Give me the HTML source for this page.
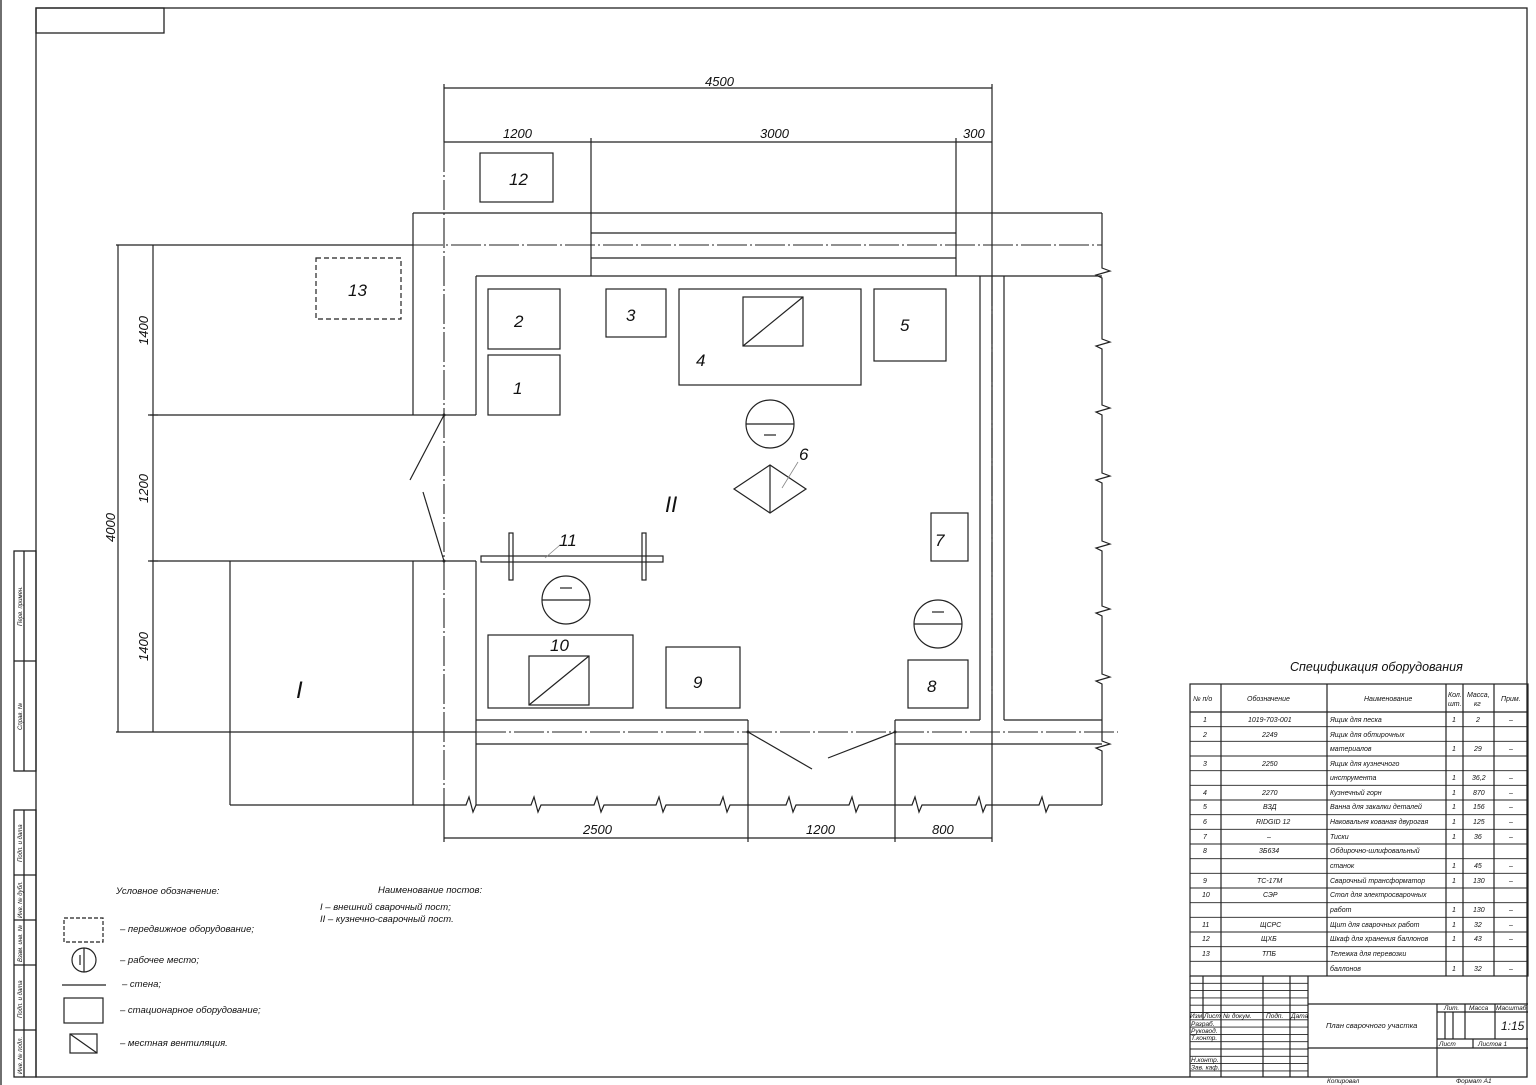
<!DOCTYPE html>
<html><head><meta charset="utf-8"><style>
html,body{margin:0;padding:0;background:#fff;}
svg{display:block;}
text{font-family:"Liberation Sans",sans-serif;font-style:italic;fill:#111;}
</style></head><body>
<svg width="1536" height="1085" viewBox="0 0 1536 1085" xmlns="http://www.w3.org/2000/svg">
<g stroke="#222" stroke-width="1.3" fill="none">
<!-- frame -->
<line x1="1" y1="0" x2="1" y2="1085"/>
<rect x="36" y="8" width="1491" height="1069"/>
<rect x="36" y="8" width="128" height="25"/>
<!-- left strip -->
<rect x="14" y="551" width="22" height="220"/>
<line x1="24" y1="551" x2="24" y2="771"/><line x1="14" y1="661" x2="36" y2="661"/>
<rect x="14" y="810" width="22" height="267"/>
<line x1="24" y1="810" x2="24" y2="1077"/>
<line x1="14" y1="875" x2="36" y2="875"/><line x1="14" y1="920" x2="36" y2="920"/>
<line x1="14" y1="965" x2="36" y2="965"/><line x1="14" y1="1030" x2="36" y2="1030"/>
</g>
<g font-size="6">
<text transform="translate(22,626) rotate(-90)">Перв. примен.</text>
<text transform="translate(22,730) rotate(-90)">Справ. №</text>
<text transform="translate(22,862) rotate(-90)">Подп. и дата</text>
<text transform="translate(22,918) rotate(-90)">Инв. № дубл.</text>
<text transform="translate(22,962) rotate(-90)">Взам. инв. №</text>
<text transform="translate(22,1018) rotate(-90)">Подп. и дата</text>
<text transform="translate(22,1074) rotate(-90)">Инв. № подл.</text>
</g>

<!-- plan -->
<g stroke="#222" stroke-width="1.2" fill="none">
<!-- dimension lines top -->
<line x1="444" y1="88" x2="992" y2="88"/>
<line x1="444" y1="142" x2="992" y2="142"/>
<line x1="591" y1="138" x2="591" y2="276"/>
<line x1="956" y1="138" x2="956" y2="276"/>
<line x1="992" y1="84" x2="992" y2="842"/>
<!-- top walls -->
<line x1="413" y1="213" x2="1102" y2="213"/>
<line x1="476" y1="276" x2="1102" y2="276"/>
<line x1="591" y1="233" x2="956" y2="233"/>
<line x1="591" y1="258" x2="956" y2="258"/>
<line x1="116" y1="245" x2="413" y2="245"/>
<!-- left walls -->
<line x1="413" y1="213" x2="413" y2="415"/>
<line x1="476" y1="276" x2="476" y2="415"/>
<line x1="150" y1="415" x2="476" y2="415"/>
<line x1="150" y1="561" x2="476" y2="561"/>
<line x1="413" y1="561" x2="413" y2="805"/>
<line x1="476" y1="561" x2="476" y2="805"/>
<line x1="230" y1="561" x2="230" y2="805"/>
<line x1="444" y1="415" x2="410" y2="480"/>
<line x1="423" y1="492" x2="444" y2="561"/>
<!-- bottom walls -->
<line x1="476" y1="720" x2="748" y2="720"/>
<line x1="476" y1="744" x2="748" y2="744"/>
<line x1="116" y1="732" x2="476" y2="732"/>
<line x1="748" y1="720" x2="748" y2="842"/>
<line x1="895" y1="720" x2="895" y2="842"/>
<line x1="895" y1="720" x2="980" y2="720"/>
<line x1="895" y1="744" x2="1102" y2="744"/>
<line x1="748" y1="732" x2="812" y2="769"/>
<line x1="895" y1="732" x2="828" y2="758"/>
<line x1="444" y1="805" x2="444" y2="842"/>
<!-- right walls -->
<line x1="980" y1="276" x2="980" y2="720"/>
<line x1="1004" y1="276" x2="1004" y2="720"/>
<line x1="1004" y1="720" x2="1102" y2="720"/>
<!-- break lines -->
<polyline points="230,805 466,805 469,797 473,812 476,805 531,805 534,797 538,812 541,805 594,805 597,797 601,812 604,805 656,805 659,797 663,812 666,805 720,805 723,797 727,812 730,805 786,805 789,797 793,812 796,805 849,805 852,797 856,812 859,805 912,805 915,797 919,812 922,805 976,805 979,797 983,812 986,805 1039,805 1042,797 1046,812 1049,805 1102,805"/>
<polyline points="1102,213 1102,268 1110,271 1096,275 1102,278 1102,339 1110,342 1096,346 1102,349 1102,405 1110,408 1096,412 1102,415 1102,473 1110,476 1096,480 1102,483 1102,541 1110,544 1096,548 1102,551 1102,606 1110,609 1096,613 1102,616 1102,674 1110,677 1096,681 1102,684 1102,741 1110,744 1096,748 1102,751 1102,805"/>
<!-- left dims -->
<line x1="118" y1="245" x2="118" y2="732"/>
<line x1="153" y1="245" x2="153" y2="732"/>
<!-- bottom dims -->
<line x1="444" y1="838" x2="992" y2="838"/>
</g>
<!-- ticks -->
<g stroke="#222" stroke-width="1.2">
<line x1="444" y1="84" x2="444" y2="142"/>
<line x1="148" y1="415" x2="158" y2="415"/><line x1="148" y1="561" x2="158" y2="561"/>
</g>
<!-- centerlines -->
<g stroke="#222" stroke-width="1.1" fill="none" stroke-dasharray="30 3 2 3">
<line x1="413" y1="245" x2="1102" y2="245"/>
<line x1="444" y1="142" x2="444" y2="805"/>
<line x1="476" y1="732" x2="1118" y2="732"/>
<line x1="992" y1="276" x2="992" y2="720"/>
</g>
<g fill="#222"><circle cx="444" cy="415" r="1.5"/><circle cx="444" cy="561" r="1.5"/><circle cx="748" cy="732" r="1.5"/><circle cx="895" cy="732" r="1.5"/></g>

<!-- equipment -->
<g stroke="#222" stroke-width="1.2" fill="none">
<rect x="480" y="153" width="73" height="49"/>
<rect x="316" y="258" width="85" height="61" stroke-dasharray="5 3"/>
<rect x="488" y="289" width="72" height="60"/>
<rect x="488" y="355" width="72" height="60"/>
<rect x="606" y="289" width="60" height="48"/>
<rect x="679" y="289" width="182" height="96"/>
<rect x="743" y="297" width="60" height="49"/><line x1="743" y1="346" x2="803" y2="297"/>
<rect x="874" y="289" width="72" height="72"/>
<ellipse cx="770" cy="424" rx="24" ry="24"/><line x1="746" y1="424" x2="794" y2="424"/><line x1="764" y1="435" x2="776" y2="435"/>
<polygon points="734,489 770,465 806,489 770,513"/><line x1="770" y1="465" x2="770" y2="513"/>
<line x1="798" y1="462" x2="782" y2="488" stroke="#888" stroke-width="0.8"/>
<rect x="481" y="556" width="182" height="6"/>
<rect x="509" y="533" width="4" height="47"/><rect x="642" y="533" width="4" height="47"/>
<line x1="560" y1="545" x2="545" y2="558" stroke="#888" stroke-width="0.8"/>
<ellipse cx="566" cy="600" rx="24" ry="24"/><line x1="542" y1="600" x2="590" y2="600"/><line x1="560" y1="588" x2="572" y2="588"/>
<rect x="488" y="635" width="145" height="73"/>
<rect x="529" y="656" width="60" height="49"/><line x1="529" y1="705" x2="589" y2="656"/>
<rect x="666" y="647" width="74" height="61"/>
<rect x="931" y="513" width="37" height="48"/>
<ellipse cx="938" cy="624" rx="24" ry="24"/><line x1="914" y1="624" x2="962" y2="624"/><line x1="932" y1="612" x2="944" y2="612"/>
<rect x="908" y="660" width="60" height="48"/>
</g>
<g font-size="17">
<text x="509" y="185">12</text><text x="348" y="296">13</text>
<text x="514" y="327">2</text><text x="513" y="394">1</text><text x="626" y="321">3</text>
<text x="696" y="366">4</text><text x="900" y="331">5</text><text x="799" y="460">6</text>
<text x="665" y="512" font-size="22">II</text>
<text x="559" y="546">11</text><text x="550" y="651">10</text><text x="693" y="688">9</text>
<text x="935" y="546">7</text><text x="927" y="692">8</text>
<text x="296" y="698" font-size="24">I</text>
</g>
<g font-size="13">
<text x="705" y="86">4500</text><text x="503" y="138">1200</text><text x="760" y="138">3000</text><text x="963" y="138">300</text>
<text x="583" y="834">2500</text><text x="806" y="834">1200</text><text x="932" y="834">800</text>
<text transform="translate(148,345) rotate(-90)">1400</text>
<text transform="translate(148,503) rotate(-90)">1200</text>
<text transform="translate(148,661) rotate(-90)">1400</text>
<text transform="translate(115,542) rotate(-90)">4000</text>
</g>

<!-- legend -->
<g stroke="#222" stroke-width="1.2" fill="none">
<rect x="64" y="918" width="39" height="24" stroke-dasharray="4 2"/>
<circle cx="84" cy="960" r="12"/><line x1="84" y1="948" x2="84" y2="972"/><line x1="80" y1="955" x2="80" y2="965"/>
<line x1="62" y1="985" x2="106" y2="985"/>
<rect x="64" y="998" width="39" height="25"/>
<rect x="70" y="1034" width="27" height="19"/><line x1="70" y1="1034" x2="97" y2="1053"/>
</g>
<g font-size="9.5">
<text x="116" y="894">Условное обозначение:</text>
<text x="120" y="932">– передвижное оборудование;</text>
<text x="120" y="963">– рабочее место;</text>
<text x="122" y="987">– стена;</text>
<text x="120" y="1013">– стационарное оборудование;</text>
<text x="120" y="1046">– местная вентиляция.</text>
<text x="378" y="893">Наименование постов:</text>
<text x="320" y="910">I – внешний сварочный пост;</text>
<text x="320" y="922">II – кузнечно-сварочный пост.</text>
</g>

<!-- spec table -->
<text x="1290" y="671" font-size="12.5">Спецификация оборудования</text>
<g stroke="#222" stroke-width="1.2" fill="none">
<rect x="1190" y="684" width="338" height="292"/>
<line x1="1190" y1="712" x2="1528" y2="712"/>
<line x1="1221" y1="684" x2="1221" y2="976"/><line x1="1327" y1="684" x2="1327" y2="976"/>
<line x1="1446" y1="684" x2="1446" y2="976"/><line x1="1463" y1="684" x2="1463" y2="976"/>
<line x1="1494" y1="684" x2="1494" y2="976"/>
</g>
<g stroke="#222" stroke-width="0.9">
<line x1="1190" y1="726.7" x2="1528" y2="726.7"/><line x1="1190" y1="741.3" x2="1528" y2="741.3"/>
<line x1="1190" y1="756" x2="1528" y2="756"/><line x1="1190" y1="770.7" x2="1528" y2="770.7"/>
<line x1="1190" y1="785.3" x2="1528" y2="785.3"/><line x1="1190" y1="800" x2="1528" y2="800"/>
<line x1="1190" y1="814.7" x2="1528" y2="814.7"/><line x1="1190" y1="829.3" x2="1528" y2="829.3"/>
<line x1="1190" y1="844" x2="1528" y2="844"/><line x1="1190" y1="858.7" x2="1528" y2="858.7"/>
<line x1="1190" y1="873.3" x2="1528" y2="873.3"/><line x1="1190" y1="888" x2="1528" y2="888"/>
<line x1="1190" y1="902.7" x2="1528" y2="902.7"/><line x1="1190" y1="917.3" x2="1528" y2="917.3"/>
<line x1="1190" y1="932" x2="1528" y2="932"/><line x1="1190" y1="946.7" x2="1528" y2="946.7"/>
<line x1="1190" y1="961.3" x2="1528" y2="961.3"/>
</g>
<g font-size="7">
<text x="1193" y="701">№ п/о</text><text x="1247" y="701">Обозначение</text><text x="1364" y="701">Наименование</text>
<text x="1448" y="697">Кол.</text><text x="1448" y="706">шт.</text><text x="1467" y="697">Масса,</text><text x="1474" y="706">кг</text><text x="1501" y="701">Прим.</text>
</g>
<g font-size="7">
<text x="1203" y="722">1</text><text x="1248" y="722">1019-703-001</text><text x="1330" y="722">Ящик для песка</text><text x="1452" y="722">1</text><text x="1476" y="722">2</text><text x="1509" y="722">–</text>
<text x="1203" y="737">2</text><text x="1262" y="737">2249</text><text x="1330" y="737">Ящик для обтирочных</text>
<text x="1330" y="751">материалов</text><text x="1452" y="751">1</text><text x="1474" y="751">29</text><text x="1509" y="751">–</text>
<text x="1203" y="766">3</text><text x="1262" y="766">2250</text><text x="1330" y="766">Ящик для кузнечного</text>
<text x="1330" y="780">инструмента</text><text x="1452" y="780">1</text><text x="1472" y="780">36,2</text><text x="1509" y="780">–</text>
<text x="1203" y="795">4</text><text x="1262" y="795">2270</text><text x="1330" y="795">Кузнечный горн</text><text x="1452" y="795">1</text><text x="1473" y="795">870</text><text x="1509" y="795">–</text>
<text x="1203" y="809">5</text><text x="1263" y="809">ВЗД</text><text x="1330" y="809">Ванна для закалки деталей</text><text x="1452" y="809">1</text><text x="1473" y="809">156</text><text x="1509" y="809">–</text>
<text x="1203" y="824">6</text><text x="1256" y="824">RIDGID 12</text><text x="1330" y="824">Наковальня кованая двурогая</text><text x="1452" y="824">1</text><text x="1473" y="824">125</text><text x="1509" y="824">–</text>
<text x="1203" y="839">7</text><text x="1267" y="839">–</text><text x="1330" y="839">Тиски</text><text x="1452" y="839">1</text><text x="1474" y="839">36</text><text x="1509" y="839">–</text>
<text x="1203" y="853">8</text><text x="1259" y="853">3Б634</text><text x="1330" y="853">Обдирочно-шлифовальный</text>
<text x="1330" y="868">станок</text><text x="1452" y="868">1</text><text x="1474" y="868">45</text><text x="1509" y="868">–</text>
<text x="1203" y="883">9</text><text x="1257" y="883">ТС-17М</text><text x="1330" y="883">Сварочный трансформатор</text><text x="1452" y="883">1</text><text x="1473" y="883">130</text><text x="1509" y="883">–</text>
<text x="1202" y="897">10</text><text x="1263" y="897">СЭР</text><text x="1330" y="897">Стол для электросварочных</text>
<text x="1330" y="912">работ</text><text x="1452" y="912">1</text><text x="1473" y="912">130</text><text x="1509" y="912">–</text>
<text x="1202" y="927">11</text><text x="1260" y="927">ЩСРС</text><text x="1330" y="927">Щит для сварочных работ</text><text x="1452" y="927">1</text><text x="1474" y="927">32</text><text x="1509" y="927">–</text>
<text x="1202" y="941">12</text><text x="1261" y="941">ЩХБ</text><text x="1330" y="941">Шкаф для хранения баллонов</text><text x="1452" y="941">1</text><text x="1474" y="941">43</text><text x="1509" y="941">–</text>
<text x="1202" y="956">13</text><text x="1262" y="956">ТПБ</text><text x="1330" y="956">Тележка для перевозки</text>
<text x="1330" y="971">баллонов</text><text x="1452" y="971">1</text><text x="1474" y="971">32</text><text x="1509" y="971">–</text>
</g>

<!-- title block -->
<g stroke="#222" stroke-width="1.2" fill="none">
<line x1="1190" y1="976" x2="1190" y2="1077"/>
<line x1="1203" y1="976" x2="1203" y2="1020"/>
<line x1="1221" y1="976" x2="1221" y2="1077"/>
<line x1="1263" y1="976" x2="1263" y2="1077"/>
<line x1="1290" y1="976" x2="1290" y2="1077"/>
<line x1="1308" y1="976" x2="1308" y2="1077"/>
<line x1="1308" y1="1004" x2="1528" y2="1004"/>
<line x1="1308" y1="1048" x2="1528" y2="1048"/>
<line x1="1437" y1="1004" x2="1437" y2="1077"/>
<line x1="1437" y1="1012" x2="1528" y2="1012"/>
<line x1="1437" y1="1039" x2="1528" y2="1039"/>
<line x1="1445" y1="1012" x2="1445" y2="1039"/>
<line x1="1453" y1="1012" x2="1453" y2="1039"/>
<line x1="1465" y1="1004" x2="1465" y2="1039"/>
<line x1="1495" y1="1004" x2="1495" y2="1039"/>
<line x1="1473" y1="1039" x2="1473" y2="1048"/>
</g>
<g stroke="#222" stroke-width="0.9">
<line x1="1190" y1="983.3" x2="1308" y2="983.3"/><line x1="1190" y1="990.6" x2="1308" y2="990.6"/>
<line x1="1190" y1="997.9" x2="1308" y2="997.9"/><line x1="1190" y1="1005.2" x2="1308" y2="1005.2"/>
<line x1="1190" y1="1012.5" x2="1308" y2="1012.5"/><line x1="1190" y1="1019.8" x2="1308" y2="1019.8"/>
<line x1="1190" y1="1027.1" x2="1308" y2="1027.1"/><line x1="1190" y1="1034.4" x2="1308" y2="1034.4"/>
<line x1="1190" y1="1041.7" x2="1308" y2="1041.7"/><line x1="1190" y1="1049" x2="1308" y2="1049"/>
<line x1="1190" y1="1056.3" x2="1308" y2="1056.3"/><line x1="1190" y1="1063.6" x2="1308" y2="1063.6"/>
<line x1="1190" y1="1070.9" x2="1308" y2="1070.9"/>
</g>
<g font-size="6.5">
<text x="1190" y="1018">Изм</text><text x="1204" y="1018">Лист</text><text x="1223" y="1018">№ докум.</text><text x="1266" y="1018">Подп.</text><text x="1291" y="1018">Дата</text>
<text x="1191" y="1026">Разраб.</text><text x="1191" y="1033">Руковод.</text><text x="1191" y="1040">Т.контр.</text>
<text x="1191" y="1062">Н.контр.</text><text x="1191" y="1069.5">Зав. каф.</text>
<text x="1326" y="1028" font-size="7.5">План сварочного участка</text>
<text x="1444" y="1010">Лит.</text><text x="1469" y="1010">Масса</text><text x="1496" y="1010">Масштаб</text>
<text x="1439" y="1046">Лист</text><text x="1478" y="1046">Листов 1</text>
<text x="1327" y="1083">Копировал</text><text x="1456" y="1083">Формат А1</text>
</g>
<text x="1501" y="1030" font-size="12">1:15</text>
</svg>
</body></html>
